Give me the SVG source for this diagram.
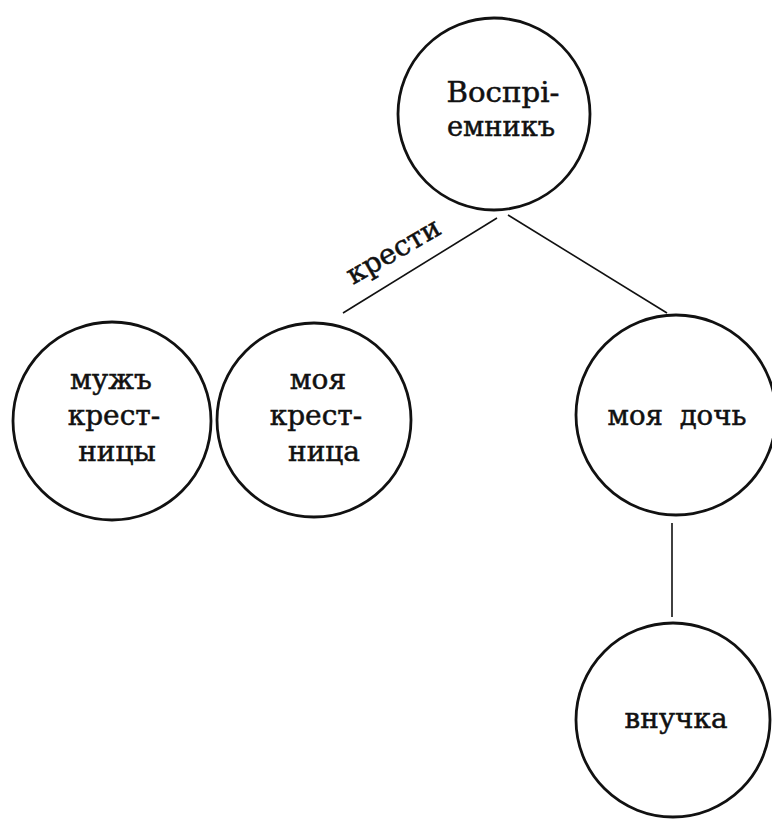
<svg xmlns="http://www.w3.org/2000/svg" width="772" height="819" viewBox="0 0 772 819">
<style>
.node circle{fill:none;stroke:#111;stroke-width:2.8}
.node text,.lbl{font-family:"DejaVu Serif","Liberation Serif",serif;font-size:28px;fill:#111;stroke:#111;stroke-width:0.5;text-anchor:middle}
.edge{stroke:#111;stroke-width:1.6;fill:none}
</style>
<rect width="772" height="819" fill="#fff"/>
<g id="connectors">
<line class="edge" x1="497" y1="218" x2="343" y2="313"/>
<line class="edge" x1="508" y1="215" x2="667" y2="313"/>
<line class="edge" x1="672" y1="523" x2="672" y2="617"/>
<text class="lbl" transform="translate(398,259) rotate(-30)" x="0" y="0" textLength="104" lengthAdjust="spacingAndGlyphs">крести</text>
</g>
<g id="n-vospriemnik" class="node">
<circle cx="494" cy="114" r="96"/>
<text x="503" y="102" textLength="113" lengthAdjust="spacingAndGlyphs">Воспрі-</text>
<text x="501" y="136" textLength="108" lengthAdjust="spacingAndGlyphs">емникъ</text>
</g>
<g id="n-muzh" class="node">
<circle cx="112" cy="421" r="99"/>
<text x="111" y="389">мужъ</text>
<text x="114" y="425">крест-</text>
<text x="117" y="461">ницы</text>
</g>
<g id="n-krestnitsa" class="node">
<circle cx="314" cy="420" r="97"/>
<text x="318" y="389">моя</text>
<text x="316" y="425">крест-</text>
<text x="324" y="461">ница</text>
</g>
<g id="n-doch" class="node">
<circle cx="676" cy="415" r="100"/>
<text x="677" y="425" textLength="139" lengthAdjust="spacingAndGlyphs" style="word-spacing:8px">моя дочь</text>
</g>
<g id="n-vnuchka" class="node">
<circle cx="673" cy="720" r="97"/>
<text x="676" y="728" textLength="103" lengthAdjust="spacingAndGlyphs">внучка</text>
</g>
</svg>
